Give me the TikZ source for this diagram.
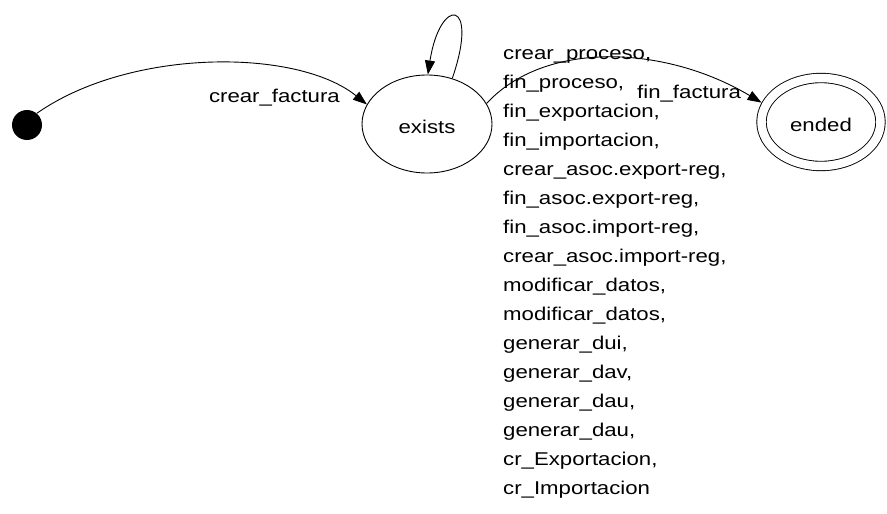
\documentclass[tikz,border=0pt]{standalone}
\usepackage{fontspec}
\newfontfamily\lbl[FakeStretch=1.2]{Liberation Sans}
\usetikzlibrary{shapes.geometric,arrows.meta}
\begin{document}
\begin{tikzpicture}[x=1pt,y=-1pt,
  every node/.style={font=\lbl\fontsize{18.5}{29}\selectfont, inner sep=0pt},
  edge/.style={line width=0.9pt, -{Triangle[length=14pt,width=10pt]}},
  state/.style={ellipse, draw, line width=0.9pt, text height=19pt, text depth=0pt}]
\useasboundingbox[fill=white] (0,0) rectangle (887,514);
\node[circle, fill=black, minimum size=30pt] (init) at (27,125) {};
\node[state, minimum width=130pt, minimum height=98pt] (exists) at (427,124) {exists};
\node[state, double, double distance=8.5pt, minimum width=119pt, minimum height=88pt] (ended) at (821,122) {ended};
\draw[edge] (init.50) .. controls (130,48) and (297,48) .. (exists.162);
\node[anchor=base east] (lcf) at (340,102) {crear\_factura};
\draw[edge] (exists.61) .. controls (480,-2) and (440,-4) .. (exists.89);
\node[anchor=north west, align=left] (lloop) at (503,49) {crear\_proceso,\\fin\_proceso,\\fin\_exportacion,\\fin\_importacion,\\crear\_asoc.export-reg,\\fin\_asoc.export-reg,\\fin\_asoc.import-reg,\\crear\_asoc.import-reg,\\modificar\_datos,\\modificar\_datos,\\generar\_dui,\\generar\_dav,\\generar\_dau,\\generar\_dau,\\cr\_Exportacion,\\cr\_Importacion};
\draw[edge, shorten >=4.7pt] (exists.19) .. controls (545,40) and (665,45) .. (ended.163);
\node[anchor=base west] (lff) at (637,98) {fin\_factura};
\end{tikzpicture}
\end{document}
